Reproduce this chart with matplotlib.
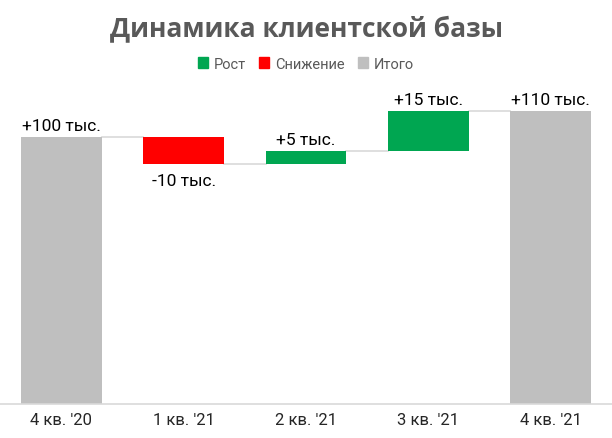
import matplotlib
matplotlib.use('Agg')
import matplotlib.pyplot as plt
from matplotlib.patches import Patch

categories = ["4 кв. '20", "1 кв. '21", "2 кв. '21", "3 кв. '21", "4 кв. '21"]
values = [100, -10, 5, 15, 110]
kinds = ['total', 'down', 'up', 'up', 'total']
labels = ['+100 тыс.', '-10 тыс.', '+5 тыс.', '+15 тыс.', '+110 тыс.']

colors = {'up': '#00A651', 'down': '#FF0000', 'total': '#BFBFBF'}
legend_names = {'up': 'Рост', 'down': 'Снижение', 'total': 'Итого'}

plt.rcParams['font.family'] = ['Roboto', 'DejaVu Sans']

fig = plt.figure(figsize=(6.12, 4.39), dpi=100)
ax = fig.add_axes([0, 0.078, 1, 0.728])

# compute bar bottoms / tops for the waterfall
bottoms = []
tops = []
running = 0
for v, k in zip(values, kinds):
    if k == 'total':
        bottoms.append(0)
        tops.append(v)
        running = v
    else:
        new = running + v
        bottoms.append(min(running, new))
        tops.append(max(running, new))
        running = new

width = 0.66
x = list(range(len(categories)))
for i in x:
    ax.bar(i, tops[i] - bottoms[i], bottom=bottoms[i], width=width,
           color=colors[kinds[i]], zorder=2)

# connector lines between bars
level = 0
for i in range(len(x) - 1):
    if kinds[i] == 'total':
        level = values[i]
    else:
        level = level + values[i]
    ax.plot([i + width / 2, i + 1 - width / 2], [level, level],
            color='#D9D9D9', lw=1.2, zorder=1)

# data labels
for i in x:
    if values[i] < 0:
        ax.text(i, bottoms[i] - 3.5, labels[i], ha='center', va='top',
                fontsize=12.5, color='black')
    else:
        ax.text(i, tops[i] + 1.5, labels[i], ha='center', va='bottom',
                fontsize=12.5, color='black')

ax.set_xlim(-0.5, len(x) - 0.5)
ax.set_ylim(0, 120)
ax.set_xticks(x)
ax.set_xticklabels(categories, fontsize=12, color='#262626')
ax.tick_params(axis='x', length=0, pad=6)
ax.set_yticks([])
for s in ['top', 'right', 'left']:
    ax.spines[s].set_visible(False)
ax.spines['bottom'].set_color('#D9D9D9')
ax.spines['bottom'].set_linewidth(1.2)

fig.text(0.5, 0.935, 'Динамика клиентской базы', ha='center', va='center',
         fontsize=19, fontweight='bold', color='#595959',
         family=['Open Sans', 'DejaVu Sans'])

handles = [Patch(color=colors[k], label=legend_names[k]) for k in ['up', 'down', 'total']]
fig.legend(handles=handles, loc='center', bbox_to_anchor=(0.5, 0.853), ncol=3,
           frameon=False, fontsize=10.5, handlelength=0.7, handleheight=0.7,
           handletextpad=0.4, columnspacing=0.9, labelcolor='#595959')

fig.savefig('out.png', dpi=100)
